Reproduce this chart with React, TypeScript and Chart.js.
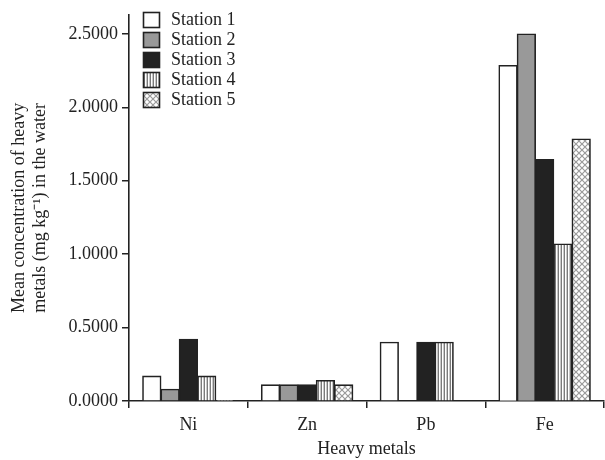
import React, { useEffect, useRef } from "react";
import { Chart, registerables } from "chart.js";

Chart.register(...registerables);

const categories = ["Ni", "Zn", "Pb", "Fe"];
const stationNames = ["Station 1", "Station 2", "Station 3", "Station 4", "Station 5"];
const station1 = [0.17, 0.11, 0.40, 2.285];
const station2 = [0.08, 0.11, 0.0, 2.50];
const station3 = [0.42, 0.11, 0.40, 1.645];
const station4 = [0.17, 0.14, 0.40, 1.07];
const station5 = [0.005, 0.11, 0.0, 1.785];
const yTickValues = [0, 0.5, 1.0, 1.5, 2.0, 2.5];
const yTitle = ["Mean concentration of heavy", "metals (mg kg\u207B\u00B9) in the water"];
const xTitle = "Heavy metals";

const FONT = "'Liberation Serif', 'Times New Roman', serif";
const INK = "#222222";

function makeStripePattern(ctx: CanvasRenderingContext2D) {
  const c = document.createElement("canvas");
  c.width = 3;
  c.height = 4;
  const g = c.getContext("2d")!;
  g.fillStyle = "#ffffff";
  g.fillRect(0, 0, 3, 4);
  g.fillStyle = "#7a7a7a";
  g.fillRect(0, 0, 1, 4);
  g.fillStyle = "#c8c8c8";
  g.fillRect(2, 0, 1, 4);
  return ctx.createPattern(c, "repeat")!;
}

function makeCrossPattern(ctx: CanvasRenderingContext2D) {
  const c = document.createElement("canvas");
  const s = 6;
  c.width = s;
  c.height = s;
  const g = c.getContext("2d")!;
  g.fillStyle = "#ffffff";
  g.fillRect(0, 0, s, s);
  g.strokeStyle = "#9a9a9a";
  g.lineWidth = 1.2;
  g.beginPath();
  g.moveTo(0, 0);
  g.lineTo(s, s);
  g.moveTo(s, 0);
  g.lineTo(0, s);
  g.stroke();
  return ctx.createPattern(c, "repeat")!;
}

const legendPlugin = {
  id: "customLegend",
  afterDraw(chart: any) {
    const ctx = chart.ctx;
    const x0 = 143.5;
    const y0 = 12.5;
    const gap = 20;
    ctx.save();
    chart.data.datasets.forEach((ds: any, i: number) => {
      const y = y0 + i * gap;
      ctx.fillStyle = ds.backgroundColor;
      ctx.fillRect(x0, y, 16, 15);
      ctx.strokeStyle = INK;
      ctx.lineWidth = 1.6;
      ctx.strokeRect(x0, y, 16, 15);
      ctx.fillStyle = INK;
      ctx.font = `18px ${FONT}`;
      ctx.textBaseline = "middle";
      ctx.textAlign = "left";
      ctx.fillText(ds.label, 171, y + 8);
    });
    ctx.restore();
  },
};

export default function App() {
  const ref = useRef<HTMLCanvasElement>(null);
  useEffect(() => {
    const canvas = ref.current!;
    const ctx = canvas.getContext("2d")!;
    const fills = ["#ffffff", "#999999", "#222222", makeStripePattern(ctx), makeCrossPattern(ctx)];
    const series = [station1, station2, station3, station4, station5];
    const chart = new Chart(canvas, {
      type: "bar",
      data: {
        labels: categories,
        datasets: series.map((d, i) => ({
          label: stationNames[i],
          data: d,
          backgroundColor: fills[i] as any,
          borderColor: INK,
          borderWidth: 1.6,
          borderSkipped: "bottom",
          inflateAmount: 0.5,
          categoryPercentage: 0.77,
          barPercentage: 1.0,
        })),
      },
      options: {
        animation: false,
        responsive: false,
        maintainAspectRatio: false,
        layout: { padding: { top: 13, right: 1, left: 0, bottom: 0 } },
        plugins: {
          legend: { display: false },
          tooltip: { enabled: false },
        },
        scales: {
          x: {
            grid: {
              offset: true,
              drawOnChartArea: false,
              drawTicks: true,
              tickLength: 7,
              color: INK,
              lineWidth: 1.5,
            },
            border: { display: true, color: INK, width: 1.6 },
            ticks: {
              color: INK,
              font: { family: FONT, size: 18 },
              padding: 6,
            },
            title: {
              display: true,
              text: xTitle,
              color: INK,
              font: { family: FONT, size: 18, lineHeight: 1.167 },
              padding: { top: 0, bottom: 0 },
            },
            afterFit(scale: any) {
              scale.height = 59;
            },
          },
          y: {
            min: 0,
            max: 2.63,
            grid: {
              drawOnChartArea: false,
              drawTicks: true,
              tickLength: 7,
              color: INK,
              lineWidth: 1.5,
            },
            border: { display: true, color: INK, width: 1.6 },
            ticks: {
              color: INK,
              font: { family: FONT, size: 18 },
              padding: 4,
              callback: (v: any) => Number(v).toFixed(4),
            },
            afterBuildTicks(scale: any) {
              scale.ticks = yTickValues.map((v) => ({ value: v }));
            },
            title: {
              display: true,
              text: yTitle,
              color: INK,
              font: { family: FONT, size: 18, lineHeight: 1.167 },
              padding: { top: 8.5, bottom: 0 },
            },
            afterFit(scale: any) {
              scale.width = 129;
            },
          },
        },
      },
      plugins: [legendPlugin],
    });
    return () => chart.destroy();
  }, []);
  return (
    <div style={{ position: "fixed", left: 0, top: 0, width: 605, height: 460, background: "#fff" }}>
      <canvas ref={ref} width={605} height={460} style={{ width: 605, height: 460, display: "block" }} />
    </div>
  );
}
